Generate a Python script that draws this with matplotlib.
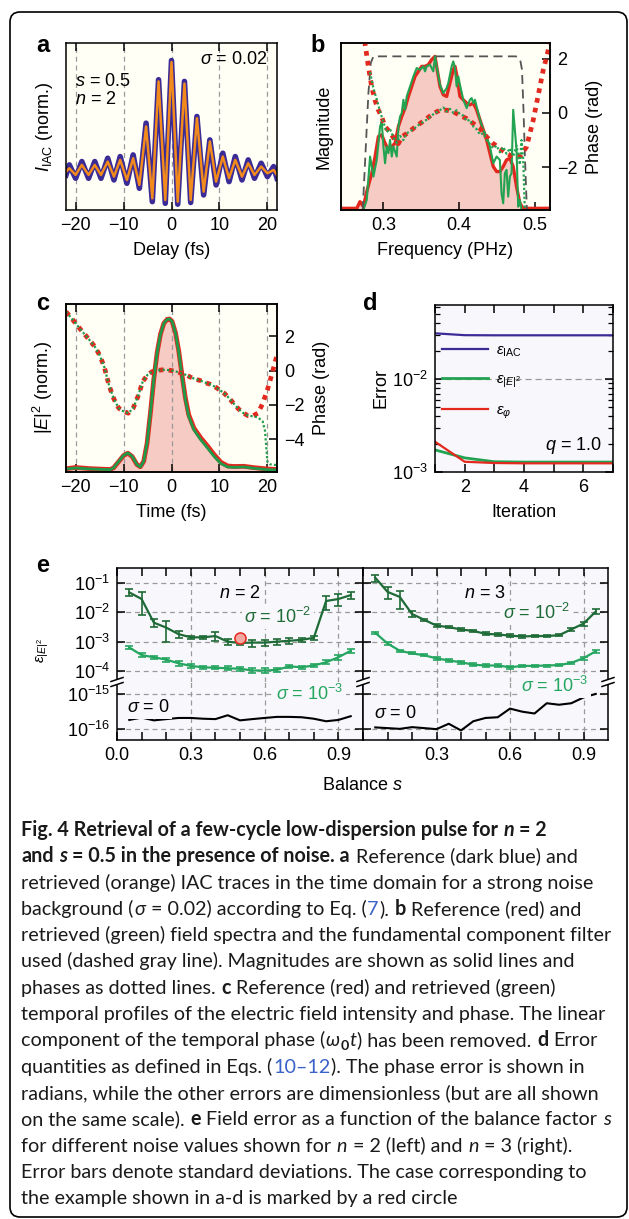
import matplotlib
matplotlib.use("Agg")
import matplotlib.pyplot as plt
from matplotlib import font_manager
from matplotlib.patches import FancyBboxPatch, Polygon
from matplotlib.lines import Line2D
from matplotlib.ticker import NullLocator, NullFormatter

# ---------------- data ----------------
# a: IAC trace (extrema of the fringes)
iac_delay = [-22.0, -21.3, -20.0, -18.7, -17.3, -16.0, -14.7, -13.3, -12.0, -10.7, -9.3, -8.0,
             -6.7, -5.3, -4.0, -2.7, -1.3, 0.0, 1.3, 2.7, 4.0, 5.3, 6.7, 8.0, 9.3, 10.7,
             12.0, 13.3, 14.7, 16.0, 17.3, 18.7, 20.0, 21.3, 22.0]
iac_retrieved = [0.23, 0.25, 0.21, 0.27, 0.21, 0.27, 0.21, 0.29, 0.20, 0.30, 0.18, 0.31,
                 0.15, 0.50, 0.07, 0.77, 0.06, 0.886, 0.05, 0.757, 0.06, 0.55, 0.11, 0.41, 0.17, 0.32,
                 0.19, 0.30, 0.20, 0.28, 0.21, 0.26, 0.22, 0.24, 0.21]
iac_reference = [0.21, 0.27, 0.19, 0.29, 0.19, 0.29, 0.19, 0.31, 0.18, 0.32, 0.16, 0.33,
                 0.13, 0.52, 0.05, 0.78, 0.04, 0.895, 0.035, 0.77, 0.045, 0.56, 0.09, 0.42, 0.15, 0.34,
                 0.17, 0.32, 0.18, 0.30, 0.19, 0.28, 0.20, 0.26, 0.19]

# b: spectra
spec_freq = [0.2473, 0.265, 0.269, 0.2736, 0.278, 0.2846, 0.289, 0.2934, 0.2978, 0.3022, 0.3066,
             0.311, 0.3154, 0.3198, 0.3242, 0.3286, 0.333, 0.3374, 0.3418, 0.3462, 0.3505, 0.355,
             0.3593, 0.3637, 0.3681, 0.3703, 0.3747, 0.3791, 0.3835, 0.3879, 0.3923, 0.3945,
             0.3967, 0.4011, 0.4055, 0.4099, 0.4143, 0.4187, 0.4231, 0.4275, 0.4319, 0.4363,
             0.4407, 0.4451, 0.4495, 0.4538, 0.4582, 0.4626, 0.467, 0.4714, 0.4758, 0.4802,
             0.4846, 0.5198]
spec_ref = [0.01, 0.01, 0.05, 0.02, 0.11, 0.22, 0.32, 0.44, 0.45, 0.40, 0.36,
            0.38, 0.40, 0.50, 0.56, 0.61, 0.68, 0.74, 0.80, 0.83, 0.86, 0.86,
            0.87, 0.90, 0.92, 0.86, 0.74, 0.69, 0.68, 0.76, 0.84, 0.86,
            0.81, 0.68, 0.66, 0.64, 0.63, 0.64, 0.60, 0.54, 0.48, 0.42,
            0.34, 0.26, 0.23, 0.23, 0.26, 0.30, 0.31, 0.26, 0.14, 0.04,
            0.01, 0.01]
ret_freq = [0.2736, 0.278, 0.2824, 0.2868, 0.2912, 0.2956, 0.2978, 0.3, 0.3022, 0.3044, 0.3066,
            0.3088, 0.311, 0.3132, 0.3176, 0.3198, 0.322, 0.3242, 0.3264, 0.3286, 0.3308, 0.3352,
            0.3396, 0.344, 0.3484, 0.3527, 0.355, 0.3571, 0.3615, 0.3659, 0.3681, 0.3703, 0.3747,
            0.3791, 0.3835, 0.3857, 0.3901, 0.3923, 0.3945, 0.3967, 0.3989, 0.4011, 0.4055, 0.4099,
            0.4143, 0.4165, 0.4187, 0.4209, 0.4231, 0.4275, 0.4319, 0.4363, 0.4407, 0.4451, 0.4495,
            0.4538, 0.456, 0.4582, 0.4604, 0.4626, 0.4648, 0.467, 0.4692, 0.4714, 0.4736, 0.4758,
            0.478, 0.4802, 0.4824]
ret_mag = [0.0, 0.06, 0.32, 0.20, 0.30, 0.50, 0.53, 0.38, 0.28, 0.38, 0.34,
           0.42, 0.32, 0.38, 0.32, 0.50, 0.56, 0.58, 0.66, 0.60, 0.68, 0.74,
           0.80, 0.85, 0.84, 0.86, 0.83, 0.86, 0.87, 0.83, 0.92, 0.86, 0.75,
           0.70, 0.73, 0.76, 0.86, 0.89, 0.85, 0.74, 0.80, 0.75, 0.66, 0.61,
           0.66, 0.67, 0.64, 0.66, 0.62, 0.54, 0.48, 0.44, 0.38, 0.28, 0.32,
           0.30, 0.10, 0.04, 0.22, 0.24, 0.08, 0.20, 0.22, 0.60, 0.48, 0.36,
           0.02, 0.06, 0.0]
filter_freq = [0.2727, 0.2802, 0.2833, 0.2868, 0.295, 0.475, 0.479, 0.481, 0.483, 0.485, 0.487, 0.4895]
filter_mag = [0.0, 0.70, 0.88, 0.92, 0.92, 0.92, 0.91, 0.89, 0.84, 0.60, 0.30, 0.0]
phase_freq_ref = [0.2745, 0.2758, 0.2802, 0.2846, 0.289, 0.2934, 0.2978, 0.3022, 0.3066, 0.311,
                  0.3154, 0.3198, 0.3242, 0.3308, 0.3396, 0.3484, 0.3571, 0.3659, 0.3747, 0.3835,
                  0.3923, 0.4011, 0.4099, 0.4187, 0.4275, 0.4363, 0.4451, 0.4538, 0.4626, 0.4714,
                  0.4802, 0.489, 0.4934, 0.4978, 0.5022, 0.5066, 0.511, 0.5154, 0.5198]
phase_ref_b = [3.0, 2.54, 1.69, 0.95, 0.46, 0.10, -0.15, -0.51, -0.64, -0.82,
               -1.0, -1.13, -0.88, -0.76, -0.57, -0.39, -0.21, -0.02, 0.10, 0.10,
               0.04, -0.09, -0.21, -0.39, -0.57, -0.88, -1.13, -1.31, -1.49, -1.61,
               -1.61, -1.25, -0.76, -0.27, 0.34, 0.95, 1.57, 2.05, 2.54]
phase_freq_ret = [0.2824, 0.2868, 0.2912, 0.2956, 0.3, 0.3044, 0.3088, 0.3132, 0.3176, 0.322,
                  0.3264, 0.3308, 0.3396, 0.3484, 0.3571, 0.3659, 0.3747, 0.3791, 0.3835, 0.3879,
                  0.3923, 0.3967, 0.4011, 0.4055, 0.4099, 0.4143, 0.4187, 0.4231, 0.4275, 0.4319,
                  0.4363, 0.4407, 0.4451, 0.4495, 0.4538, 0.4582, 0.4626, 0.467, 0.4714, 0.4758,
                  0.4802, 0.4824, 0.4846, 0.4868]
phase_ret_b = [1.5, 0.9, 0.5, 0.05, -0.35, -0.7, -0.6, -0.9, -1.1, -0.85,
               -1.0, -0.75, -0.6, -0.4, -0.25, -0.05, 0.1, 0.2, 0.05, 0.15,
               0.0, 0.1, -0.05, -0.1, -0.3, -0.25, -0.5, -0.6, -0.8, -0.75,
               -1.0, -1.15, -1.3, -1.2, -1.45, -1.25, -1.5, -1.3, -1.6, -1.2,
               -1.9, -1.0, -1.7, -3.6]

# c: temporal intensity and phase
int_time = [-21.8, -20.0, -17.0, -12.8, -12.1, -11.0, -10.0, -9.1, -8.2, -7.2, -6.5, -5.8, -5.1,
            -4.4, -3.7, -3.0, -2.3, -1.6, -0.9, -0.4, 0.14, 0.84, 1.5, 2.2, 2.9, 3.6, 4.7, 6.1,
            7.5, 8.9, 10.3, 11.7, 13.0, 15.1, 17.2, 20.0, 22.1]
int_ret = [0.018, 0.024, 0.018, 0.014, 0.024, 0.063, 0.099, 0.113, 0.093, 0.044, 0.030, 0.063, 0.172,
           0.35, 0.55, 0.71, 0.82, 0.885, 0.909, 0.911, 0.895, 0.826, 0.717, 0.568, 0.43, 0.33, 0.25, 0.192,
           0.143, 0.093, 0.05, 0.030, 0.028, 0.030, 0.022, 0.014, 0.012]
int_ref = [0.020, 0.027, 0.020, 0.015, 0.024, 0.062, 0.098, 0.112, 0.092, 0.044, 0.031, 0.063, 0.170,
           0.35, 0.55, 0.71, 0.82, 0.885, 0.909, 0.911, 0.895, 0.828, 0.722, 0.575, 0.44, 0.34, 0.26, 0.203,
           0.155, 0.103, 0.058, 0.036, 0.033, 0.034, 0.026, 0.018, 0.015]
phase_time = [-22, -21, -20, -19, -18, -17, -16, -15, -14, -13, -12, -11, -10, -9, -8, -7, -6, -5,
              -4, -3, -2, -1, 0, 1, 2, 3, 4, 5, 6, 7, 8, 9, 10, 11, 12, 13, 14, 15, 16, 17,
              18, 19, 20, 21, 22]
phase_ref_c = [3.42, 3.09, 2.75, 2.40, 2.07, 1.74, 1.39, 0.91, 0.19, -0.89, -1.66, -2.19, -2.38,
               -2.48, -2.19, -1.51, -0.64, -0.25, -0.06, 0.0, 0.04, 0.04, 0.0, -0.06, -0.15, -0.25,
               -0.39, -0.50, -0.58, -0.70, -0.79, -0.93, -1.12, -1.32, -1.60, -1.93, -2.24, -2.48,
               -2.63, -2.63, -2.48, -1.93, -1.12, -0.15, 0.91]
phase_time_ret = [-22, -21, -20, -19, -18, -17, -16, -15, -14, -13, -12, -11, -10, -9, -8, -7, -6,
                  -5, -4, -3, -2, -1, 0, 1, 2, 3, 4, 5, 6, 7, 8, 9, 10, 11, 12, 13, 14, 15, 16,
                  17, 18, 19, 19.5, 20, 20.5, 22]
phase_ret_c = [3.42, 3.09, 2.75, 2.40, 2.07, 1.74, 1.39, 0.91, 0.19, -0.89, -1.66, -2.19, -2.38,
               -2.48, -2.19, -1.51, -0.64, -0.25, -0.06, 0.0, 0.04, 0.04, 0.0, -0.06, -0.15, -0.25,
               -0.39, -0.50, -0.58, -0.70, -0.79, -0.93, -1.12, -1.32, -1.60, -1.93, -2.24, -2.48,
               -2.63, -2.66, -2.72, -2.95, -3.5, -5.3, -5.45, -5.5]

# d: error vs iteration
iteration = [1, 2, 3, 4, 5, 6, 7]
err_iac = [0.0312, 0.0298, 0.0297, 0.0297, 0.0297, 0.0297, 0.0297]
err_field = [1.73e-3, 1.42e-3, 1.29e-3, 1.28e-3, 1.28e-3, 1.28e-3, 1.28e-3]
err_phase = [2.12e-3, 1.29e-3, 1.25e-3, 1.24e-3, 1.24e-3, 1.24e-3, 1.24e-3]

# e: field error vs balance
balance = [0.05, 0.10, 0.15, 0.20, 0.25, 0.30, 0.35, 0.40, 0.45, 0.50,
           0.55, 0.60, 0.65, 0.70, 0.75, 0.80, 0.85, 0.90, 0.95]
n2_sig2 = [0.047, 0.028, 4.4e-3, 3.0e-3, 1.8e-3, 1.4e-3, 1.4e-3, 1.55e-3, 1.0e-3, 0.9e-3,
           0.93e-3, 0.93e-3, 1.0e-3, 1.07e-3, 1.15e-3, 1.35e-3, 0.024, 0.028, 0.038]
n2_sig2_err = [0.012, 0.02, 1.3e-3, 2.0e-3, 0.5e-3, 0.2e-3, 0.2e-3, 0.5e-3, 0.25e-3, 0.15e-3,
               0.25e-3, 0.2e-3, 0.2e-3, 0.25e-3, 0.2e-3, 0.2e-3, 0.012, 0.012, 0.01]
n2_sig3 = [6.3e-4, 3.5e-4, 2.95e-4, 2.45e-4, 1.85e-4, 1.5e-4, 1.35e-4, 1.3e-4, 1.25e-4, 1.2e-4,
           1.05e-4, 1.05e-4, 1.1e-4, 1.45e-4, 1.35e-4, 1.55e-4, 2.0e-4, 2.95e-4, 4.9e-4]
n2_sig3_err = [0.7e-4, 0.6e-4, 0.4e-4, 0.4e-4, 0.3e-4, 0.25e-4, 0.15e-4, 0.15e-4, 0.2e-4, 0.2e-4,
               0.2e-4, 0.2e-4, 0.15e-4, 0.2e-4, 0.15e-4, 0.2e-4, 0.3e-4, 0.5e-4, 0.7e-4]
n2_sig0 = [1.8e-16, 2.1e-16, 1.75e-16, 1.9e-16, 2.05e-16, 2.05e-16, 1.95e-16, 1.9e-16, 2.45e-16,
           1.75e-16, 1.9e-16, 2.05e-16, 2.2e-16, 2.2e-16, 2.15e-16, 1.95e-16, 1.65e-16, 1.8e-16, 2.3e-16]
n3_sig2 = [0.148, 0.049, 0.033, 8.7e-3, 5.5e-3, 3.5e-3, 3.1e-3, 2.6e-3, 2.3e-3, 1.85e-3,
           1.75e-3, 1.6e-3, 1.5e-3, 1.55e-3, 1.55e-3, 1.65e-3, 2.6e-3, 4.1e-3, 0.0105]
n3_sig2_err = [0.04, 0.02, 0.02, 2.0e-3, 0.6e-3, 0.4e-3, 0.3e-3, 0.3e-3, 0.25e-3, 0.2e-3,
               0.2e-3, 0.2e-3, 0.15e-3, 0.15e-3, 0.15e-3, 0.15e-3, 0.3e-3, 0.6e-3, 2.0e-3]
n3_sig3 = [2.0e-3, 8.7e-4, 4.9e-4, 4.0e-4, 3.45e-4, 2.7e-4, 2.3e-4, 2.0e-4, 1.65e-4, 1.55e-4,
           1.55e-4, 1.35e-4, 1.5e-4, 1.5e-4, 1.55e-4, 1.6e-4, 1.9e-4, 2.75e-4, 4.7e-4]
n3_sig3_err = [0.2e-3, 1.0e-4, 0.5e-4, 0.3e-4, 0.3e-4, 0.3e-4, 0.2e-4, 0.2e-4, 0.2e-4, 0.15e-4,
               0.15e-4, 0.15e-4, 0.12e-4, 0.12e-4, 0.12e-4, 0.15e-4, 0.2e-4, 0.3e-4, 0.5e-4]
n3_sig0 = [1.1e-16, 1.05e-16, 1.0e-16, 1.12e-16, 1.05e-16, 0.98e-16, 1.4e-16, 0.9e-16, 1.65e-16,
           2.05e-16, 2.15e-16, 3.8e-16, 3.1e-16, 2.75e-16, 5.4e-16, 4.9e-16, 5.4e-16, 7.9e-16, 1.0e-15]
marked_s, marked_err = 0.5, 1.3e-3

# ---------------- style ----------------
W, H = 629, 1219
BG_WARM = '#fffff6'
BG_COOL = '#f8f8fc'
BLUE = '#3b2b96'
ORANGE = '#f28a1c'
RED = '#e3281e'
GREEN = '#22a351'
FILL_RED = '#f5cbc4'
DKGREEN = '#1f6b37'
LTGREEN = '#25a660'
GRID = '#9a9a9a'
DASH = (0, (4, 3))

plt.rcParams['font.family'] = ['Liberation Sans', 'DejaVu Sans']
plt.rcParams['mathtext.fontset'] = 'custom'
plt.rcParams['mathtext.rm'] = 'Liberation Sans'
plt.rcParams['mathtext.it'] = 'Liberation Sans:italic'
plt.rcParams['mathtext.bf'] = 'Liberation Sans:bold'
plt.rcParams['font.size'] = 13
plt.rcParams['axes.linewidth'] = 1.1
plt.rcParams['xtick.direction'] = 'in'
plt.rcParams['ytick.direction'] = 'in'

fig = plt.figure(figsize=(W / 100, H / 100), dpi=100)


def add_ax(x0, y0, x1, y1, **kw):
    return fig.add_axes([x0 / W, 1 - y1 / H, (x1 - x0) / W, (y1 - y0) / H], **kw)


def ftext(x, y, s, **kw):
    return fig.text(x / W, 1 - y / H, s, **kw)


tick_kw = dict(length=6, width=1.1, pad=5)

# ---- a ----
ax = add_ax(66, 43, 277, 210, facecolor=BG_WARM)
ax.plot(iac_delay, iac_reference, color=BLUE, lw=4.0, solid_joinstyle='round')
ax.plot(iac_delay, iac_retrieved, color=ORANGE, lw=1.8, solid_joinstyle='round')
ax.set_xlim(-22, 22)
ax.set_ylim(0, 1)
ax.set_xticks([-20, -10, 0, 10, 20])
ax.set_yticks([])
ax.tick_params(axis='x', top=True, **tick_kw)
ax.grid(axis='x', ls=DASH, color=GRID, lw=0.9)
ax.set_xlabel('Delay (fs)', labelpad=6)
ax.set_ylabel(r'$I_{\mathrm{IAC}}$ (norm.)', labelpad=8)
ax.text(0.957, 0.904, r'$\sigma$ = 0.02', transform=ax.transAxes, ha='right', va='center')
ax.text(0.043, 0.772, r'$s$ = 0.5', transform=ax.transAxes, ha='left', va='center')
ax.text(0.043, 0.659, r'$n$ = 2', transform=ax.transAxes, ha='left', va='center')

# ---- b ----
ax = add_ax(341, 43, 550, 210, facecolor=BG_WARM)
ax.fill_between(spec_freq, spec_ref, 0, color=FILL_RED, lw=0)
ax.plot(spec_freq, spec_ref, color=RED, lw=2.4)
ax.plot(ret_freq, ret_mag, color=GREEN, lw=1.5)
ax.plot(filter_freq, filter_mag, color='#555555', ls=(0, (5, 3)), lw=1.3)
ax.set_xlim(0.244, 0.52)
ax.set_ylim(0, 1)
ax.set_xticks([0.3, 0.4, 0.5])
ax.set_yticks([])
ax.tick_params(axis='x', **tick_kw)
ax.set_xlabel('Frequency (PHz)', labelpad=6)
ax.set_ylabel('Magnitude', labelpad=6)
ax2 = ax.twinx()
ax2.plot(phase_freq_ref, phase_ref_b, color=RED, lw=3.4, ls=(0, (1, 1.1)))
ax2.plot(phase_freq_ret, phase_ret_b, color=GREEN, lw=1.6, ls=(0, (1, 1)))
ax2.set_ylim(-3.57, 2.57)
ax2.set_yticks([-2, 0, 2])
ax2.tick_params(axis='y', **tick_kw)
ax2.set_ylabel('Phase (rad)', labelpad=6)

# ---- c ----
ax = add_ax(66, 304, 277, 472, facecolor=BG_WARM)
ax.fill_between(int_time, int_ref, 0, color=FILL_RED, lw=0)
ax.plot(int_time, int_ref, color=RED, lw=3.4)
ax.plot(int_time, int_ret, color='#1f9a4a', lw=2.0)
ax.set_xlim(-22, 22)
ax.set_ylim(0, 1)
ax.set_xticks([-20, -10, 0, 10, 20])
ax.set_yticks([])
ax.tick_params(axis='x', top=True, **tick_kw)
ax.grid(axis='x', ls=DASH, color=GRID, lw=0.9)
ax.set_xlabel('Time (fs)', labelpad=6)
ax.set_ylabel(r'$|E|^2$ (norm.)', labelpad=8)
ax2 = ax.twinx()
ax2.plot(phase_time, phase_ref_c, color=RED, lw=3.4, ls=(0, (1, 1.1)))
ax2.plot(phase_time_ret, phase_ret_c, color='#1f9a4a', lw=1.6, ls=(0, (1, 1)))
ax2.set_ylim(-5.9, 3.87)
ax2.set_yticks([-4, -2, 0, 2])
ax2.tick_params(axis='y', **tick_kw)
ax2.set_ylabel('Phase (rad)', labelpad=6)

# ---- d ----
ax = add_ax(435, 305, 613, 472, facecolor=BG_COOL)
ax.set_yscale('log')
h1, = ax.plot(iteration, err_iac, color=BLUE, lw=1.6)
h2, = ax.plot(iteration, err_field, color=GREEN, lw=2.0)
h3, = ax.plot(iteration, err_phase, color=RED, lw=1.6)
ax.axhline(1e-2, ls=(0, (5, 3)), color=GRID, lw=0.9, zorder=0.5)
ax.set_xlim(1, 7)
ax.set_ylim(1e-3, 0.063)
ax.set_xticks(iteration)
ax.set_xticklabels(['', '2', '', '4', '', '6', ''])
ax.tick_params(axis='both', which='major', top=True, right=True, **tick_kw)
ax.tick_params(axis='y', which='minor', left=True, right=True, length=3.5, width=0.9)
ax.yaxis.set_minor_formatter(NullFormatter())
ax.set_xlabel('Iteration', labelpad=6)
ax.set_ylabel('Error', labelpad=2)
ax.legend([h1, h2, h3],
          [r'$\varepsilon_{\mathrm{IAC}}$', r'$\varepsilon_{|E|^2}$', r'$\varepsilon_{\varphi}$'],
          loc='upper left', bbox_to_anchor=(0.04, 0.77), frameon=False, fontsize=11,
          handlelength=3.0, handletextpad=0.5, labelspacing=0.9, borderaxespad=0, borderpad=0)
ax.text(0.94, 0.16, r'$q$ = 1.0', transform=ax.transAxes, ha='right', va='center')

# ---- e ----
E_X0, E_XM, E_X1 = 117, 363, 608
E_Y0, E_YB, E_Y1 = 568, 682, 740
panels = [
    (E_X0, E_XM, n2_sig2, n2_sig2_err, n2_sig3, n2_sig3_err, n2_sig0, True),
    (E_XM, E_X1, n3_sig2, n3_sig2_err, n3_sig3, n3_sig3_err, n3_sig0, False),
]
e_axes = []
for x0, x1, s2, s2e, s3, s3e, s0, first in panels:
    top = add_ax(x0, E_Y0, x1, E_YB, facecolor=BG_COOL)
    bot = add_ax(x0, E_YB, x1, E_Y1, facecolor=BG_COOL)
    for a_ in (top, bot):
        a_.set_yscale('log')
        a_.set_xlim(0, 1.0)
        a_.set_xticks([0.0, 0.1, 0.2, 0.3, 0.4, 0.5, 0.6, 0.7, 0.8, 0.9])
        a_.yaxis.set_minor_locator(NullLocator())
        a_.grid(axis='y', ls=DASH, color=GRID, lw=0.9)
        for xv in (0.3, 0.6, 0.9):
            a_.axvline(xv, ls=DASH, color=GRID, lw=0.9, zorder=0.5)
        a_.tick_params(axis='y', left=True, right=True, labelleft=first, **tick_kw)
    top.set_ylim(4.27e-5, 0.316)
    top.set_yticks([1e-4, 1e-3, 1e-2, 1e-1])
    bot.set_ylim(4.8e-17, 2.19e-15)
    bot.set_yticks([1e-16, 1e-15])
    top.spines['bottom'].set_visible(False)
    bot.spines['top'].set_visible(False)
    top.tick_params(axis='x', top=True, bottom=False, labelbottom=False, **tick_kw)
    bot.tick_params(axis='x', top=False, bottom=True, **tick_kw)
    labels = ['0.0', '', '', '0.3', '', '', '0.6', '', '', '0.9']
    if not first:
        labels[0] = ''
    bot.set_xticklabels(labels)

    top.errorbar(balance, s2, yerr=s2e, color=DKGREEN, lw=1.6, elinewidth=1.2, capsize=3, capthick=1.2)
    top.errorbar(balance, s3, yerr=s3e, color=LTGREEN, lw=1.6, elinewidth=1.2, capsize=3, capthick=1.2)
    bot.plot(balance, s0, color='black', lw=1.5)
    e_axes.append((top, bot))

box = dict(facecolor=BG_COOL, edgecolor='none', pad=1.5)
(tl, bl), (tr, br) = e_axes
tl.plot([marked_s], [marked_err], 'o', ms=8, mfc='#f2a9a2', mec=RED, mew=1.1, zorder=5)


def ax_text(a_, xpx, ypx, s, **kw):
    x0, y0 = a_.transAxes.inverted().transform(fig.transFigure.transform((xpx / W, 1 - ypx / H)))
    a_.text(x0, y0, s, transform=a_.transAxes, bbox=box, clip_on=False, zorder=6, **kw)


ax_text(tl, 240, 593, r'$n$ = 2', ha='center', va='center')
ax_text(tl, 278, 617, r'$\sigma$ = 10$^{-2}$', ha='center', va='center', color=DKGREEN)
ax_text(bl, 276, 694, r'$\sigma$ = 10$^{-3}$', ha='left', va='center', color=LTGREEN)
ax_text(bl, 127, 708, r'$\sigma$ = 0', ha='left', va='center')
ax_text(tr, 485, 593, r'$n$ = 3', ha='center', va='center')
ax_text(tr, 537, 613, r'$\sigma$ = 10$^{-2}$', ha='center', va='center', color=DKGREEN)
ax_text(br, 555, 686, r'$\sigma$ = 10$^{-3}$', ha='center', va='center', color=LTGREEN)
ax_text(br, 374, 713, r'$\sigma$ = 0', ha='left', va='center')

ftext(43, 650, r'$\varepsilon_{|E|^2}$', rotation=90, fontsize=11, ha='center', va='center')
ftext(362, 785, r'Balance $s$', ha='center', va='center')


# axis break marks
def break_mark(xp, yp):
    pts = [(xp - 4, yp + 3.8), (xp + 4, yp + 1.2), (xp + 4, yp - 3.8), (xp - 4, yp - 1.2)]
    fig.add_artist(Polygon([(px / W, 1 - py / H) for px, py in pts], closed=True,
                           transform=fig.transFigure, facecolor='white', edgecolor='none', zorder=10))
    for dy in (-2.5, 2.5):
        fig.add_artist(Line2D([(xp - 6) / W, (xp + 6) / W], [1 - (yp + dy + 2) / H, 1 - (yp + dy - 2) / H],
                              transform=fig.transFigure, color='black', lw=1.1, zorder=11))


for xb in (E_X0, E_XM, E_X1):
    break_mark(xb, E_YB)

# panel letters
for lx, ly, ch in [(43, 45, 'a'), (318, 45, 'b'), (43, 303, 'c'), (370, 304, 'd'), (43, 565, 'e')]:
    ftext(lx, ly, ch, fontsize=17, weight='bold', ha='center', va='center')

# frame
fig.add_artist(FancyBboxPatch((0.10, 0.02), 6.17, 12.05, boxstyle='round,pad=0,rounding_size=0.1',
                              transform=fig.dpi_scale_trans, fill=False, lw=1.2, edgecolor='black'))

# ---- caption ----
def has_font(name):
    try:
        font_manager.findfont(font_manager.FontProperties(family=name), fallback_to_default=False)
        return True
    except ValueError:
        return False


CAP_FONT = 'Lato' if has_font('Lato') else 'DejaVu Sans'
renderer = fig.canvas.get_renderer()

caption_lines = [
    [("Fig. 4 Retrieval of a few-cycle low-dispersion pulse for ", "b"), ("n", "bi"), (" = 2", "b")],
    [("and ", "b"), ("s", "bi"), (" = 0.5 in the presence of noise. a", "b"), (" Reference (dark blue) and", "r")],
    [("retrieved (orange) IAC traces in the time domain for a strong noise", "r")],
    [("background (", "r"), ("σ", "i"), (" = 0.02) according to Eq. (", "r"), ("7", "link"), ("). ", "r"),
     ("b", "b"), (" Reference (red) and", "r")],
    [("retrieved (green) field spectra and the fundamental component filter", "r")],
    [("used (dashed gray line). Magnitudes are shown as solid lines and", "r")],
    [("phases as dotted lines. ", "r"), ("c", "b"), (" Reference (red) and retrieved (green)", "r")],
    [("temporal profiles of the electric field intensity and phase. The linear", "r")],
    [("component of the temporal phase (", "r"), ("ω", "i"), ("0", "sub"), ("t", "i"),
     (") has been removed. ", "r"), ("d", "b"), (" Error", "r")],
    [("quantities as defined in Eqs. (", "r"), ("10–12", "link"), ("). The phase error is shown in", "r")],
    [("radians, while the other errors are dimensionless (but are all shown", "r")],
    [("on the same scale). ", "r"), ("e", "b"), (" Field error as a function of the balance factor ", "r"),
     ("s", "i")],
    [("for different noise values shown for ", "r"), ("n", "i"), (" = 2 (left) and ", "r"), ("n", "i"),
     (" = 3 (right).", "r")],
    [("Error bars denote standard deviations. The case corresponding to", "r")],
    [("the example shown in a-d is marked by a red circle", "r")],
]


def style_kw(st, fs):
    kw = dict(family=[CAP_FONT, 'DejaVu Sans'], fontsize=fs, color='#1a1a1a')
    if 'b' in st:
        kw['weight'] = 'bold'
    if st in ('i', 'bi'):
        kw['style'] = 'italic'
    if st == 'link':
        kw['color'] = '#3a62c9'
    if st == 'sub':
        kw['fontsize'] = fs * 0.72
    return kw


def measure(s, **kw):
    t = fig.text(0, 0, s, **kw)
    w = t.get_window_extent(renderer).width
    t.remove()
    return w


# fit the caption size to the width of the "filter" line
w10 = measure(caption_lines[4][0][0], **style_kw('r', 10))
CAP_FS = 10 * 591 / w10


def rich_line(x, y, pieces):
    for txt, st in pieces:
        kw = style_kw(st, CAP_FS)
        sp = measure('| |', **kw) - measure('||', **kw)
        lead = len(txt) - len(txt.lstrip(' '))
        trail = len(txt) - len(txt.rstrip(' '))
        core = txt.strip(' ')
        x += lead * sp
        if core:
            dy = 4 if st == 'sub' else 0
            t = fig.text(x / W, 1 - (y + dy) / H, core, ha='left', va='baseline', **kw)
            x += t.get_window_extent(renderer).width + 0.6
        x += trail * sp


for i, pieces in enumerate(caption_lines):
    rich_line(21, 836 + 26.3 * i, pieces)

fig.savefig('out.png', dpi=100)
